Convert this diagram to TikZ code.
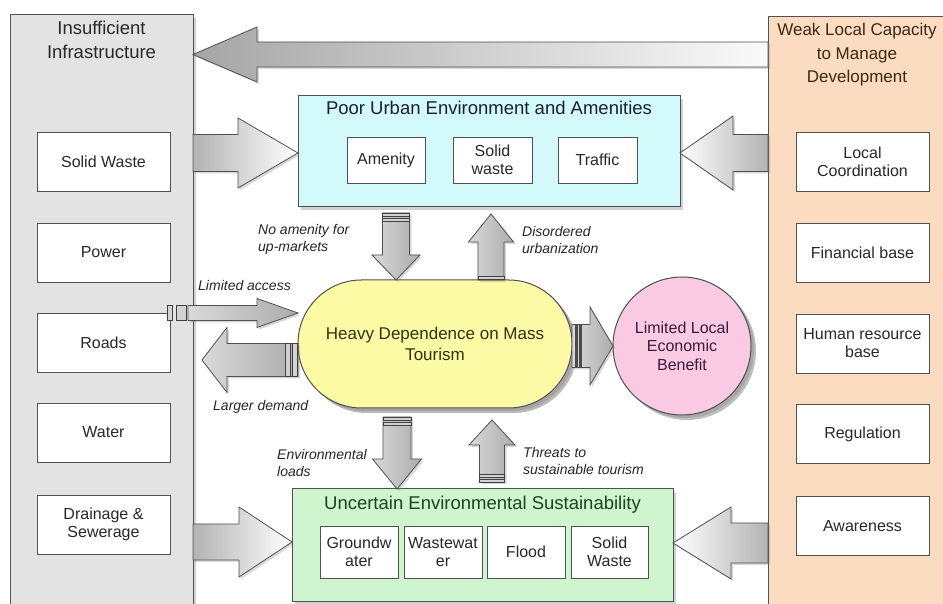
\documentclass[tikz,border=0pt]{standalone}
\usepackage{fontspec}
\setmainfont{Liberation Sans}
\usetikzlibrary{calc,shadows}
\definecolor{infrafill}{RGB}{227,227,227}
\definecolor{weakfill}{RGB}{252,220,192}
\definecolor{urbanfill}{RGB}{210,250,250}
\definecolor{envfill}{RGB}{206,245,206}
\definecolor{pillfill}{RGB}{252,250,165}
\definecolor{pinkfill}{RGB}{249,202,226}
\definecolor{edge}{RGB}{80,80,80}
\definecolor{txt}{RGB}{40,40,40}
\newcommand\blockH[6]{%
  \path[#1] let \p1=#2, \p2=#3, \n1={\x2-sign(\x2-\x1)*#6} in
    (\x1,\y2+#4) -- (\n1,\y2+#4) -- (\n1,\y2+#5) -- (\x2,\y2) -- (\n1,\y2-#5) -- (\n1,\y2-#4) -- (\x1,\y2-#4) -- cycle;}
\newcommand\blockV[6]{%
  \path[#1] let \p1=#2, \p2=#3, \n1={\y2-sign(\y2-\y1)*#6} in
    (\x2+#4,\y1) -- (\x2+#4,\n1) -- (\x2+#5,\n1) -- (\x2,\y2) -- (\x2-#5,\n1) -- (\x2-#4,\n1) -- (\x2-#4,\y1) -- cycle;}
\begin{document}
\begin{tikzpicture}[x=1pt,y=1pt,
  panel/.style={draw=edge, line width=1pt, outer sep=0pt, inner sep=0pt,
    drop shadow={shadow xshift=3pt, shadow yshift=-3pt, opacity=0.35}},
  sbox/.style={draw=edge, line width=0.9pt, fill=white, align=center, text=txt,
    font=\fontsize{16}{18}\selectfont, inner sep=0pt, outer sep=0pt},
  ttl/.style={align=center, font=\fontsize{18.5}{24}\selectfont, inner sep=0pt},
  lbl/.style={align=left, anchor=west, font=\itshape\fontsize{14}{17}\selectfont, inner sep=0pt, text=black!85},
  barrow/.style={draw=edge, line width=0.8pt, drop shadow={shadow xshift=2pt, shadow yshift=-2pt, opacity=0.3}},
  midarrow/.style={barrow, left color=gray!30, right color=gray!65},
  stripe/.style={fill=gray!35, draw=black!75, line width=0.6pt}]
\useasboundingbox (0,0) rectangle (943,604);
\clip (0,0) rectangle (943,604);
\fill[white] (0,0) rectangle (943,604);

% side panels
\node[panel, fill=infrafill, minimum width=183, minimum height=600, anchor=north west] (infra) at (10,589) {};
\node[ttl, text=txt] (infraT) at (101.5,564.5) {Insufficient\\Infrastructure};
\node[panel, fill=weakfill, minimum width=190, minimum height=598, anchor=north west] (weak) at (768,587) {};
\node[ttl, text={rgb,255:red,60;green,40;blue,20}, font=\fontsize{17}{23.5}\selectfont] (weakT) at (857,549) {Weak Local Capacity\\to Manage\\Development};

% left items
\foreach \nm/\yy/\tx in {sw/442.5/Solid Waste, pw/351.5/Power, rd/261.5/Roads, wt/171.5/Water, dr/79.5/{Drainage \&\\Sewerage}}
  \node[sbox, minimum width=133, minimum height=59] (\nm) at (103.5,\yy) {\tx};
% right items
\foreach \nm/\yy/\tx in {lc/442/{Local\\Coordination}, fb/351.5/Financial base, hr/260.5/{Human resource\\base}, rg/170/Regulation, aw/78/Awareness}
  \node[sbox, minimum width=133, minimum height=59] (\nm) at (862.5,\yy) {\tx};

% top arrow
\coordinate (a1s) at (weak.west |- 0,549.5);
\coordinate (a1t) at (infra.east |- 0,549.5);
\blockH{barrow, left color=gray!70, right color=gray!4}{(a1s)}{(a1t)}{12.5}{27.5}{64}

% urban box
\node[panel, fill=urbanfill, minimum width=382, minimum height=111] (urban) at (489,452.5) {};
\node[ttl, text={rgb,255:red,30;green,30;blue,50}] (urbanT) at (489,496) {Poor Urban Environment and Amenities};
\node[sbox, minimum width=78, minimum height=46] (am) at (386,444) {Amenity};
\node[sbox, minimum width=79, minimum height=46] (usw) at (492.5,444) {Solid\\waste};
\node[sbox, minimum width=79, minimum height=46] (tr) at (597.5,444) {Traffic};

% environment box
\node[panel, fill=envfill, minimum width=381, minimum height=113] (env) at (482.5,58.5) {};
\node[ttl, text={rgb,255:red,25;green,70;blue,25}] (envT) at (482.5,99) {Uncertain Environmental Sustainability};
\node[sbox, minimum width=78, minimum height=52] (gw) at (359,52) {Groundw\\ater};
\node[sbox, minimum width=78, minimum height=52] (ww) at (443,52) {Wastewat\\er};
\node[sbox, minimum width=78, minimum height=52] (fl) at (526,52) {Flood};
\node[sbox, minimum width=77, minimum height=52] (esw) at (609.5,52) {Solid\\Waste};

% side arrows
\coordinate (a2s) at (infra.east |- 0,451);
\coordinate (a2t) at (urban.west |- 0,451);
\blockH{barrow, left color=gray!60, right color=white}{(a2s)}{(a2t)}{18.5}{35}{60}
\coordinate (a3s) at (weak.west |- 0,451);
\coordinate (a3t) at (urban.east |- 0,451);
\blockH{barrow, left color=white, right color=gray!60}{(a3s)}{(a3t)}{18.5}{37}{53}
\coordinate (a4s) at (infra.east |- 0,62);
\coordinate (a4t) at (env.west |- 0,62);
\blockH{barrow, left color=gray!60, right color=white}{(a4s)}{(a4t)}{18}{35}{53}
\coordinate (a5s) at (weak.west |- 0,61);
\coordinate (a5t) at (env.east |- 0,61);
\blockH{barrow, left color=white, right color=gray!60}{(a5s)}{(a5t)}{20}{36}{58}

% central pill and circle
\node[panel, fill=pillfill, rounded corners=63.5, minimum width=274, minimum height=128,
  drop shadow={shadow xshift=5pt, shadow yshift=-5pt, opacity=0.55},
  align=center, text={rgb,255:red,50;green,50;blue,20}, font=\fontsize{17}{20.5}\selectfont] (pill) at (435,260) {Heavy Dependence on Mass\\Tourism};
\node[panel, circle, fill=pinkfill, minimum size=138,
  drop shadow={shadow xshift=5pt, shadow yshift=-5pt, opacity=0.5},
  align=center, text={rgb,255:red,60;green,25;blue,60}, font=\fontsize{16}{18.5}\selectfont] (benefit) at (682,258) {Limited Local\\Economic\\Benefit};

% pill -> benefit
\coordinate (a6s) at (pill.east |- 0,258);
\coordinate (a6t) at (benefit.west |- 0,258);
\blockH{midarrow}{(a6s)}{(a6t)}{21.5}{39}{23}
\fill[black!70] (574.5,236.5) rectangle (577.5,279.5);
\fill[black!70] (579,236.5) rectangle (581.5,279.5);

% urban <-> pill
\coordinate (a7s) at (396,391);
\coordinate (a7t) at (pill.north -| 396,0);
\blockV{midarrow}{(a7s)}{(a7t)}{13.5}{24}{25}
\path[stripe] (382.5,387.5) rectangle (409.5,390.5);
\path[stripe] (382.5,382.5) rectangle (409.5,385.5);
\coordinate (a8s) at (pill.north -| 491,0);
\coordinate (a8t) at ($(urban.south -| 491,0)+(0,-7)$);
\blockV{midarrow}{(a8s)}{(a8t)}{13}{22.5}{28}
\path[stripe] (478,324.5) rectangle (504,328);

% pill <-> infra
\coordinate (a9s) at (pill.west |- 0,244);
\coordinate (a9t) at ($(infra.east |- 0,244)+(9,0)$);
\blockH{midarrow}{(a9s)}{(a9t)}{16.5}{32.5}{25}
\path[stripe] (285,227.5) rectangle (290,260.5);
\path[stripe] (292,227.5) rectangle (297,260.5);
\coordinate (a10s) at ($(infra.east |- 0,291)+(-5,0)$);
\coordinate (a10t) at (pill.west |- 0,291);
\blockH{midarrow}{(a10s)}{(a10t)}{7.5}{14.5}{41}
\path[stripe] (167,283.5) rectangle (172.5,298.5);
\path[stripe] (176,283.5) rectangle (186,298.5);

% pill <-> env
\coordinate (a11s) at (397,187);
\coordinate (a11t) at (env.north -| 397,0);
\blockV{midarrow}{(a11s)}{(a11t)}{14}{24.5}{30}
\path[stripe] (383,183.5) rectangle (411,186.5);
\path[stripe] (383,178.5) rectangle (411,181.5);
\coordinate (a12s) at ($(env.north -| 492,0)+(0,7)$);
\coordinate (a12t) at ($(pill.south -| 492,0)+(0,-12)$);
\blockV{midarrow}{(a12s)}{(a12t)}{12.5}{23}{25}
\path[stripe] (479.5,122) rectangle (504.5,125);
\path[stripe] (479.5,127) rectangle (504.5,130);

% labels
\node[lbl] (l7) at (258,365) {No amenity for\\up-markets};
\node[lbl] (l8) at (522,363.5) {Disordered\\urbanization};
\node[lbl] (l10) at (198,318) {Limited access};
\node[lbl] (l9) at (213,197) {Larger demand};
\node[lbl] (l11) at (277,141) {Environmental\\loads};
\node[lbl] (l12) at (523,142.5) {Threats to\\sustainable tourism};
\end{tikzpicture}
\end{document}
